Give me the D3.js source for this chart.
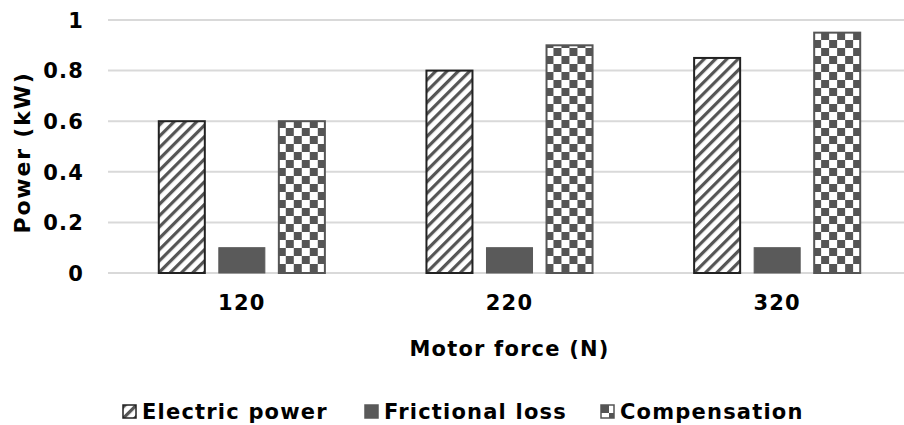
<!DOCTYPE html>
<html>
<head>
<meta charset="utf-8">
<script src="https://cdn.jsdelivr.net/npm/d3@7/dist/d3.min.js"></script>
<style>
  html, body { margin: 0; padding: 0; background: #fff; }
  svg { display: block; font-family: "DejaVu Sans", Verdana, sans-serif; font-weight: bold; }
</style>
</head>
<body>
<svg id="chart" width="904" height="425"></svg>
<script>
// Motor force categories and the three power series (kW)
const categories = ["120", "220", "320"];
const seriesNames = ["Electric power", "Frictional loss", "Compensation"];
const electricPower = [0.6, 0.8, 0.85];
const frictionalLoss = [0.1, 0.1, 0.1];
const compensation = [0.6, 0.9, 0.95];
const yTicks = [0, 0.2, 0.4, 0.6, 0.8, 1];
const yTickLabels = ["0", "0.2", "0.4", "0.6", "0.8", "1"];

const seriesValues = [electricPower, frictionalLoss, compensation];
const rows = categories.map((c, i) => ({
  cat: c,
  vals: seriesNames.map((s, k) => ({ key: s, k, v: seriesValues[k][i] }))
}));

const svg = d3.select("#chart");
const dark = "#555555";
const fontSize = 21;
const spacing = "1.2px";

// Fill patterns: diagonal hatch, solid, checkerboard
const defs = svg.append("defs");
const hatch = defs.append("pattern")
  .attr("id", "hatch").attr("patternUnits", "userSpaceOnUse")
  .attr("width", 8).attr("height", 8)
  .attr("patternTransform", "rotate(45)");
hatch.append("rect").attr("width", 8).attr("height", 8).attr("fill", "#fff");
hatch.append("rect").attr("x", 0).attr("width", 3.2).attr("height", 8).attr("fill", dark);

const checker = defs.append("pattern")
  .attr("id", "checker").attr("patternUnits", "userSpaceOnUse")
  .attr("width", 16).attr("height", 16);
checker.append("rect").attr("width", 16).attr("height", 16).attr("fill", "#fff");
checker.append("rect").attr("x", 0).attr("y", 0).attr("width", 8).attr("height", 8).attr("fill", dark);
checker.append("rect").attr("x", 8).attr("y", 8).attr("width", 8).attr("height", 8).attr("fill", dark);

const fills = ["url(#hatch)", "#5a5a5a", "url(#checker)"];
const strokes = ["#222222", "#5a5a5a", dark];

const plotLeft = 108, plotRight = 911, plotTop = 20, plotBottom = 273;

const y = d3.scaleLinear().domain([0, 1]).range([plotBottom, plotTop]);
const x0 = d3.scaleBand().domain(categories).range([plotLeft, plotRight])
  .paddingInner(0.372).paddingOuter(0.186);
const x1 = d3.scaleBand().domain(seriesNames).range([0, x0.bandwidth()]).paddingInner(0.2);

// Horizontal gridlines
svg.append("g")
  .selectAll("line").data(yTicks).join("line")
  .attr("x1", plotLeft).attr("x2", plotRight)
  .attr("y1", d => y(d)).attr("y2", d => y(d))
  .attr("stroke", "#d9d9d9").attr("stroke-width", 2);

// Y axis tick labels
const yAxis = d3.axisLeft(y).tickValues(yTicks)
  .tickFormat((d, i) => yTickLabels[i]).tickSize(0).tickPadding(0);
const gy = svg.append("g").attr("transform", "translate(84,0)").call(yAxis);
gy.select(".domain").remove();
gy.selectAll("text").attr("font-size", fontSize).attr("font-family", "DejaVu Sans, sans-serif")
  .attr("font-weight", "bold").attr("fill", "#000").attr("dy", "0.35em")
  .attr("letter-spacing", spacing);

// Bars
const groups = svg.append("g").selectAll("g").data(rows).join("g")
  .attr("transform", d => `translate(${x0(d.cat)},0)`);
groups.selectAll("rect").data(d => d.vals).join("rect")
  .attr("x", d => x1(d.key) + 1)
  .attr("width", x1.bandwidth() - 2)
  .attr("y", d => y(d.v))
  .attr("height", d => y(0) - y(d.v))
  .attr("fill", d => fills[d.k])
  .attr("stroke", d => strokes[d.k])
  .attr("stroke-width", d => d.k === 1 ? 1 : 2);

// X axis labels
const xAxis = d3.axisBottom(x0).tickSize(0).tickPadding(0);
const gx = svg.append("g").attr("transform", `translate(0,${plotBottom})`).call(xAxis);
gx.select(".domain").remove();
gx.selectAll("text").attr("font-size", fontSize).attr("font-family", "DejaVu Sans, sans-serif")
  .attr("font-weight", "bold").attr("fill", "#000").attr("dy", "1.75em")
  .attr("letter-spacing", spacing);

// Axis titles
svg.append("text")
  .attr("x", (plotLeft + 911) / 2).attr("y", 356)
  .attr("text-anchor", "middle").attr("font-size", fontSize).attr("fill", "#000")
  .attr("letter-spacing", spacing)
  .text("Motor force (N)");
svg.append("text")
  .attr("transform", `translate(30,${(plotTop + plotBottom) / 2 + 6}) rotate(-90)`)
  .attr("text-anchor", "middle").attr("font-size", 22).attr("fill", "#000")
  .attr("letter-spacing", "1.8px")
  .text("Power (kW)");

// Legend
const legendX = [123, 365, 601];
const legend = svg.append("g").selectAll("g").data(seriesNames).join("g")
  .attr("transform", (d, i) => `translate(${legendX[i]},405)`);
legend.append("rect")
  .attr("x", 0).attr("y", 0).attr("width", 13).attr("height", 13)
  .attr("fill", (d, i) => fills[i])
  .attr("stroke", (d, i) => strokes[i]).attr("stroke-width", 1.5);
legend.append("text")
  .attr("x", 19).attr("y", 6.5).attr("dy", "0.35em")
  .attr("font-size", fontSize).attr("fill", "#000")
  .attr("letter-spacing", spacing)
  .text(d => d);
</script>
</body>
</html>
